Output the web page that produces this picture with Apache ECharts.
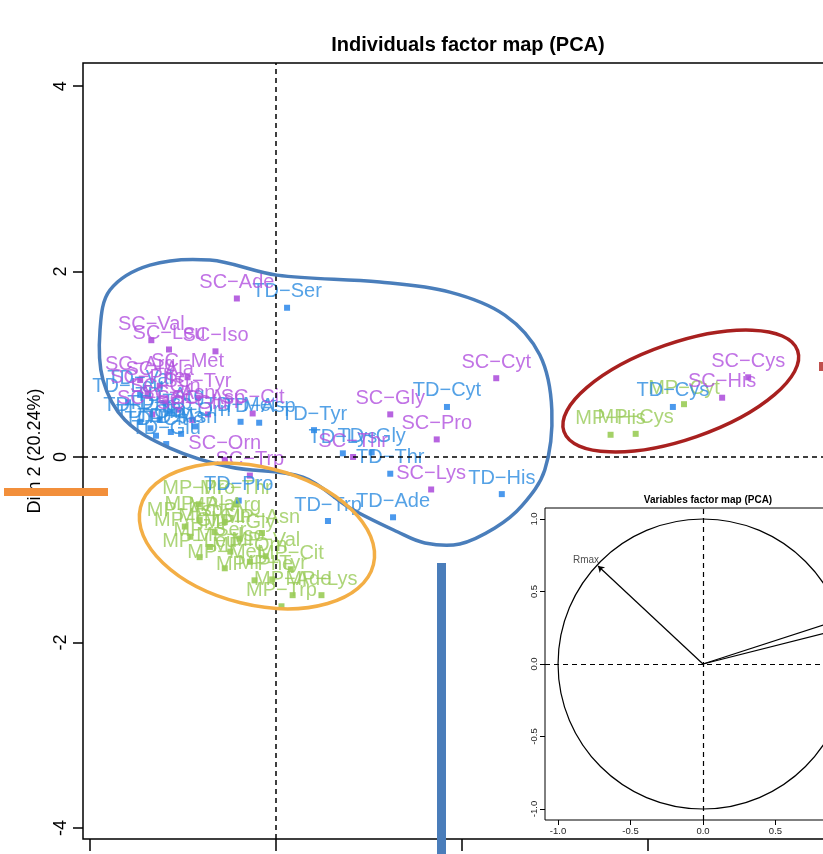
<!DOCTYPE html>
<html><head><meta charset="utf-8">
<script src="https://cdn.jsdelivr.net/npm/echarts@6/dist/echarts.min.js"></script>
<style>html,body{margin:0;padding:0;background:#fff}#c{width:823px;height:854px}</style>
</head><body><div id="c"></div>
<script>
const FONT = '"Liberation Sans", Arial, Helvetica, sans-serif';

// ---- Individuals (Dim 1, Dim 2) ----
const scNames = ['SC-Ade','SC-Val','SC-Leu','SC-Iso','SC-Met','SC-Arg','SC-Ala','SC-Phe','SC-Tyr','SC-Gln','SC-Asn','SC-Ser','SC-Glu','SC-Asp','SC-Cit','SC-Orn','SC-Trp','SC-Thr','SC-Gly','SC-Pro','SC-Lys','SC-Cyt','SC-His','SC-Cys'];
const scX = [-0.42,-1.34,-1.15,-0.65,-0.95,-1.46,-1.25,-1.38,-0.84,-1.19,-1.05,-1.33,-0.90,-0.73,-0.25,-0.55,-0.28,0.83,1.23,1.73,1.67,2.37,4.80,5.08];
const scY = [1.71,1.26,1.16,1.14,0.86,0.83,0.77,0.68,0.64,0.59,0.51,0.46,0.40,0.46,0.47,-0.03,-0.20,0.00,0.46,0.19,-0.35,0.85,0.64,0.86];

const tdNames = ['TD-Ser','TD-Cyt','TD-Tyr','TD-Lys','TD-Gly','TD-Thr','TD-His','TD-Ade','TD-Trp','TD-Pro','TD-Cys','TD-Asp','TD-Met','TD-Glu','TD-Val','TD-Leu','TD-Iso','TD-Ala','TD-Asn','TD-Gln','TD-Phe','TD-Orn','TD-Cit','TD-Arg'];
const tdX = [0.12,1.84,0.41,0.72,1.03,1.23,2.43,1.26,0.56,-0.40,4.27,-0.18,-0.38,-1.18,-1.46,-1.59,-1.25,-1.13,-1.02,-1.35,-1.46,-0.87,-1.29,-1.14];
const tdY = [1.61,0.54,0.29,0.04,0.05,-0.18,-0.40,-0.65,-0.69,-0.47,0.54,0.37,0.38,0.14,0.67,0.59,0.40,0.27,0.25,0.31,0.38,0.33,0.23,0.49];

const mpNames = ['MP-Pro','MP-Thr','MP-Ala','MP-Arg','MP-Asn','MP-Gln','MP-Glu','MP-Gly','MP-Ser','MP-Iso','MP-Leu','MP-Val','MP-Met','MP-Orn','MP-Phe','MP-Tyr','MP-Cit','MP-Asp','MP-Trp','MP-Ade','MP-Lys','MP-Cyt','MP-His','MP-Cys'];
const mpX = [-0.83,-0.43,-0.82,-0.55,-0.15,-0.66,-0.92,-0.39,-0.71,-0.49,-0.82,-0.11,-0.55,-0.28,-0.23,-0.04,0.16,-0.98,0.06,0.18,0.49,4.39,3.60,3.87];
const mpY = [-0.51,-0.51,-0.68,-0.70,-0.82,-0.81,-0.86,-0.88,-0.97,-1.02,-1.08,-1.07,-1.20,-1.13,-1.33,-1.32,-1.21,-0.75,-1.61,-1.49,-1.49,0.57,0.24,0.25];

const dim1Ticks = [-2, 0, 2, 4];
const dim2Ticks = [-4, -2, 0, 2, 4];

// ---- Variables (inset) ----
const varNames = ['Rmax', '', ''];
const varX = [-0.724, 0.955, 0.970];
const varY = [0.676, 0.310, 0.245];
const varTicks = [-1, -0.5, 0, 0.5, 1];

// ---- Annotation outlines (data units) ----
const blobX = [-1.892,-1.785,-1.355,-0.710,0.011,1.118,1.871,2.462,2.839,2.968,2.892,2.645,2.355,1.978,1.602,1.312,0.796,0.290,-0.495,-1.140,-1.624,-1.860];
const blobY = [1.369,1.801,2.070,2.124,1.962,1.887,1.779,1.531,1.100,0.507,-0.140,-0.528,-0.766,-0.938,-0.927,-0.809,-0.550,-0.216,-0.108,0.097,0.399,0.830];
const orangeEllipse = {cx:-0.204, cy:-0.852, rx:1.29, ry:0.742, angle:-13.8};
const redEllipse = {cx:4.355, cy:0.712, rx:1.33, ry:0.52, angle:19.1};

const minus = s => s.replace('-', '\u2212');

function groupSeries(names, xs, ys, markColor, textColor, extra) {
  return Object.assign({
    type:'scatter', xAxisIndex:0, yAxisIndex:0, symbol:'rect', symbolSize:6,
    itemStyle:{color:markColor},
    data: names.map((n,i)=>({name:n, value:[xs[i], ys[i]]})),
    label:{show:true, position:'top', distance:3, formatter:p=>minus(p.name),
      color:textColor, fontSize:20, fontFamily:FONT},
    emphasis:{disabled:true}, silent:true
  }, extra || {});
}

function ellipseSeries(e, color) {
  return {
    type:'custom', xAxisIndex:0, yAxisIndex:0, z:10, silent:true, clip:false,
    data:[[e.cx, e.cy]],
    renderItem(params, api){
      const c = api.coord([e.cx, e.cy]);
      const s = api.size([e.rx, e.ry]);
      return {type:'ellipse', x:c[0], y:c[1], rotation:e.angle*Math.PI/180,
        shape:{cx:0, cy:0, rx:s[0], ry:s[1]},
        style:{fill:'none', stroke:color, lineWidth:3.5}};
    }
  };
}

const chart = echarts.init(document.getElementById('c'), null, {renderer:'canvas'});
chart.setOption({
  animation:false,
  backgroundColor:'#fff',
  textStyle:{fontFamily:FONT},
  title:[
    {text:'Individuals factor map (PCA)', left:463, top:30, textAlign:'center',
     textStyle:{fontFamily:FONT, fontWeight:'bold', fontSize:20, color:'#000'}},
    {text:'Variables factor map (PCA)', left:703, top:490, textAlign:'center',
     textStyle:{fontFamily:FONT, fontWeight:'bold', fontSize:10, color:'#000'}}
  ],
  grid:[
    {left:83, top:63, width:760, height:776, show:true, borderColor:'#000', borderWidth:1.5, backgroundColor:'transparent', outerBoundsMode:'none', containLabel:false},
    {left:545, top:508, width:316, height:312, show:true, borderColor:'#000', borderWidth:1, backgroundColor:'#fff', outerBoundsMode:'none', containLabel:false}
  ],
  xAxis:[
    {gridIndex:0, type:'value', min:-2.075, max:6.1, axisLine:{show:false, onZero:false}, splitLine:{show:false},
     axisTick:{show:true, customValues:dim1Ticks, length:12, lineStyle:{color:'#000', width:1.5}},
     axisLabel:{show:false}},
    {gridIndex:1, type:'value', min:-1.09, max:1.09, axisLine:{show:false, onZero:false}, splitLine:{show:false},
     axisTick:{show:true, customValues:varTicks, length:5, lineStyle:{color:'#000', width:1}},
     axisLabel:{show:true, customValues:varTicks, formatter:v=>v.toFixed(1), fontSize:9.5, color:'#222', margin:6, fontFamily:FONT}}
  ],
  yAxis:[
    {gridIndex:0, type:'value', min:-4.12, max:4.25, axisLine:{show:false, onZero:false}, splitLine:{show:false},
     axisTick:{show:true, customValues:dim2Ticks, length:10, lineStyle:{color:'#000', width:1.5}},
     axisLabel:{show:true, customValues:dim2Ticks, rotate:90, margin:13, fontSize:18, color:'#000', fontFamily:FONT},
     name:'Dim 2 (20.24%)', nameLocation:'middle', nameGap:31, nameRotate:90,
     nameTextStyle:{fontSize:18, color:'#000', fontFamily:FONT}},
    {gridIndex:1, type:'value', min:-1.076, max:1.076, axisLine:{show:false, onZero:false}, splitLine:{show:false},
     axisTick:{show:true, customValues:varTicks, length:5, lineStyle:{color:'#000', width:1}},
     axisLabel:{show:true, customValues:varTicks, formatter:v=>v.toFixed(1), rotate:90, fontSize:9.5, color:'#222', margin:6, fontFamily:FONT}}
  ],
  series:[
    groupSeries(mpNames, mpX, mpY, '#8DC641', '#98CA58'),
    groupSeries(tdNames, tdX, tdY, '#1E80E8', '#2B8BE0'),
    groupSeries(scNames, scX, scY, '#A53DD8', '#B150DF', {
      markLine:{silent:true, symbol:['none','none'], label:{show:false},
        lineStyle:{color:'#000', type:[5,4], width:1.5},
        data:[{xAxis:0},{yAxis:0}]}
    }),
    {
      type:'custom', xAxisIndex:0, yAxisIndex:0, z:10, silent:true, clip:false,
      data:[[0,0]],
      renderItem(params, api){
        const pts = blobX.map((x,i)=>api.coord([x, blobY[i]]));
        return {type:'polygon', shape:{points:pts, smooth:0.35},
          style:{fill:'none', stroke:'#4A7EBB', lineWidth:3.5}};
      }
    },
    ellipseSeries(orangeEllipse, '#F3AE45'),
    ellipseSeries(redEllipse, '#A8201F'),
    // inset: variables factor map
    {
      type:'custom', xAxisIndex:1, yAxisIndex:1, z:20, silent:true, clip:false,
      data:[[0,0]],
      renderItem(params, api){
        const c = api.coord([0,0]);
        const r = api.size([1,1]);
        return {type:'ellipse', shape:{cx:c[0], cy:c[1], rx:r[0], ry:r[1]},
          style:{fill:'none', stroke:'#000', lineWidth:1.2}};
      }
    },
    {
      type:'scatter', xAxisIndex:1, yAxisIndex:1, z:21, symbolSize:0, silent:true,
      data: varNames.map((n,i)=>({name:n, value:[varX[i], varY[i]]})),
      label:{show:true, position:'inside', offset:[-12,-6], formatter:p=>p.name,
        fontSize:10, color:'#222', fontFamily:FONT},
      markLine:{silent:true, symbol:['none','none'], label:{show:false},
        lineStyle:{color:'#000', type:'solid', width:1.2},
        data:[
          {xAxis:0, lineStyle:{type:[5,4], width:1.2, color:'#000'}},
          {yAxis:0, lineStyle:{type:[5,4], width:1.2, color:'#000'}}
        ].concat(varX.map((x,i)=>[
          {coord:[0,0], symbol:'none'},
          {coord:[x, varY[i]], symbol:'arrow', symbolSize:6}
        ]))
      }
    }
  ],
  graphic:[
    {type:'rect', z:100, shape:{x:4, y:488, width:104, height:8}, style:{fill:'#F28F3B'}},
    {type:'rect', z:100, shape:{x:437, y:563, width:9, height:291}, style:{fill:'#4A7DBA'}},
    {type:'rect', z:100, shape:{x:819, y:362, width:4, height:9}, style:{fill:'#C0504D'}}
  ]
});
</script></body></html>
